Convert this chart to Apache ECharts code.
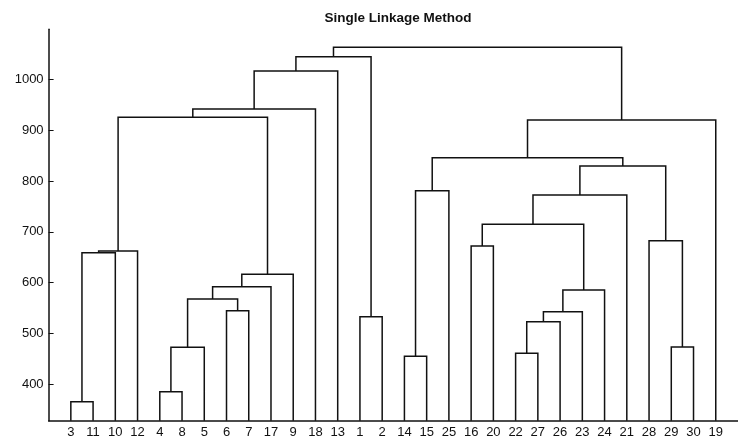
<!DOCTYPE html>
<html>
<head>
<meta charset="utf-8">
<script src="https://cdn.jsdelivr.net/npm/echarts@6/dist/echarts.min.js"></script>
<style>html,body{margin:0;padding:0;background:#fff;}#c{width:738px;height:442px;}</style>
</head>
<body>
<div id="c"></div>
<script>
// Leaf order along the x axis (labels)
const leafLabels = ['3','11','10','12','4','8','5','6','7','17','9','18','13','1','2','14','15','25','16','20','22','27','26','23','24','21','28','29','30','19'];
// Linkage: each merge joins mergeLeft[i] and mergeRight[i] at mergeHeight[i]
// a plain label refers to a leaf, 'm<k>' refers to merge k
const mergeLeft   = ['3','4','m1','6','m2','m4','m5','m0','m7','m8','m9','m10','1','m11','14','m14','16','22','m17','m18','m19','m16','m21','29','28','m22','m15','m26','m13'];
const mergeRight  = ['11','8','5','7','m3','17','9','10','12','m6','18','13','2','m12','15','25','20','27','26','23','24','m20','21','30','m23','m24','m25','19','m27'];
const mergeHeight = [365.7,385.4,472.7,544.8,567.8,592,616.4,658.9,662.2,925.2,941.6,1016.3,533,1044.5,455,780.8,672,461,523.1,542.8,585.5,714.7,772.4,473.3,682.5,829.4,845.8,919.9,1063];
// Y tick labels
const yTicks = [400,500,600,700,800,900,1000];
const yMin = 328.4, yMax = 1098.4;

// Build dendrogram link records from linkage (x = leaf index; cluster x = midpoint of children)
const nodeX = {}, nodeH = {};
leafLabels.forEach((l, i) => { nodeX[l] = i; nodeH[l] = yMin; });
const links = [];
mergeHeight.forEach((h, k) => {
  const a = mergeLeft[k], b = mergeRight[k];
  links.push([nodeX[a], nodeH[a], nodeX[b], nodeH[b], h]);
  nodeX['m' + k] = (nodeX[a] + nodeX[b]) / 2;
  nodeH['m' + k] = h;
});

const chart = echarts.init(document.getElementById('c'), null, {renderer: 'canvas'});
const font = 'Liberation Sans, Arial, Helvetica, sans-serif';
chart.setOption({
  animation: false,
  backgroundColor: '#fff',
  title: {
    text: 'Single Linkage Method',
    left: 393, top: 6, textAlign: 'center',
    textStyle: {fontFamily: font, fontSize: 13.5, fontWeight: 'bold', color: '#111'}
  },
  grid: {left: 48.6, top: 29.3, width: 693.2, height: 391.4, containLabel: false},
  xAxis: {
    type: 'value', min: -1, max: leafLabels.length,
    splitLine: {show: false},
    axisLine: {show: true, onZero: false, lineStyle: {color: '#111', width: 1.5}},
    axisTick: {show: false},
    axisLabel: {
      customValues: leafLabels.map((_, i) => i),
      formatter: v => leafLabels[Math.round(v)] ?? '',
      margin: 5, color: '#111', fontFamily: font, fontSize: 13
    }
  },
  yAxis: {
    type: 'value', min: yMin, max: yMax,
    splitLine: {show: false},
    axisLine: {show: true, onZero: false, lineStyle: {color: '#111', width: 1.5}},
    axisTick: {show: true, inside: true, length: 5, customValues: yTicks, lineStyle: {color: '#111'}},
    axisLabel: {customValues: yTicks, formatter: v => String(Math.round(v)), margin: 5, color: '#111', fontFamily: font, fontSize: 13}
  },
  series: [{
    type: 'custom',
    coordinateSystem: 'cartesian2d',
    encode: {x: [0, 2], y: [1, 3, 4]},
    data: links,
    renderItem: function (params, api) {
      const xl = api.value(0), hl = api.value(1), xr = api.value(2), hr = api.value(3), h = api.value(4);
      const pts = [api.coord([xl, hl]), api.coord([xl, h]), api.coord([xr, h]), api.coord([xr, hr])];
      return {type: 'polyline', shape: {points: pts}, style: {stroke: '#111', lineWidth: 1.5, fill: null}};
    }
  }]
});
</script>
</body>
</html>
